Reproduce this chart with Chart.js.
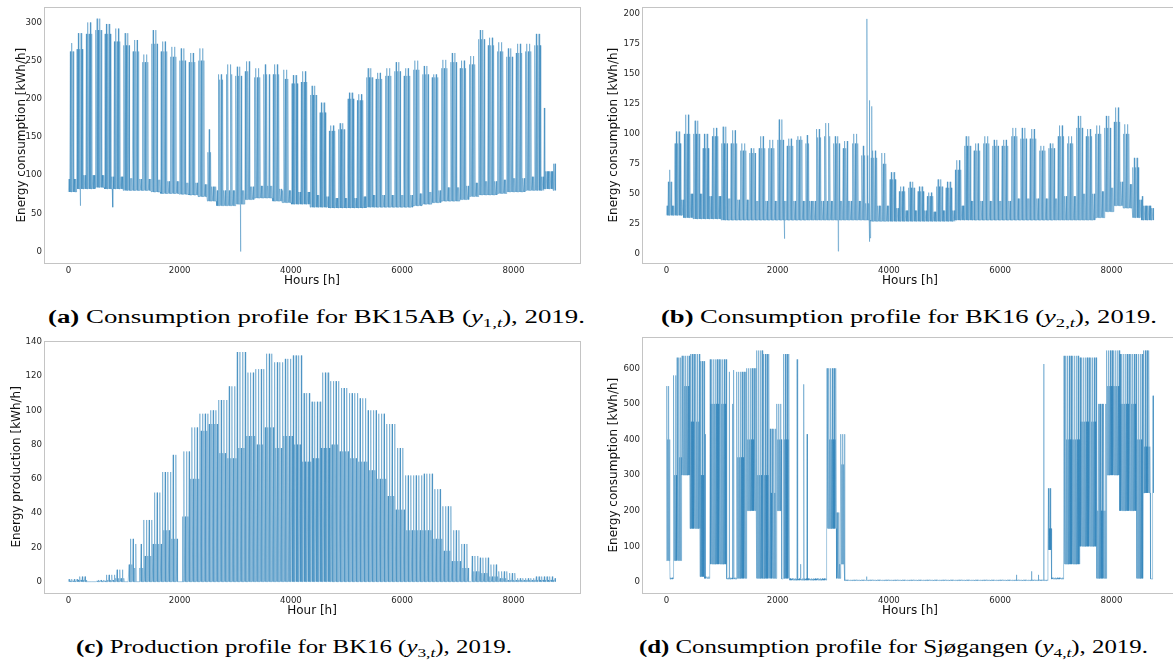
<!DOCTYPE html>
<html><head><meta charset="utf-8">
<script src="https://cdn.jsdelivr.net/npm/chart.js@4.4.1/dist/chart.umd.min.js"></script>
<style>
html,body{margin:0;padding:0;background:#fff;overflow:hidden;}
#wrap{position:relative;width:1173px;height:664px;overflow:hidden;background:#fff;}
canvas{position:absolute;}
.cap{position:absolute;white-space:nowrap;font-family:"Liberation Serif","DejaVu Serif",serif;font-size:18px;color:#000;transform-origin:0 0;line-height:1.2;}
.cap b{font-weight:bold;}
.cap sub{font-size:0.7em;vertical-align:-0.3em;line-height:0;}
</style></head><body>
<div id="wrap">
<canvas id="ca" width="590" height="296" style="left:0;top:0"></canvas>
<canvas id="cb" width="590" height="296" style="left:597px;top:0"></canvas>
<canvas id="cc" width="590" height="296" style="left:0;top:330px"></canvas>
<canvas id="cd" width="590" height="296" style="left:597px;top:330px"></canvas>
<div class="cap" data-l="48" data-r="585" data-y="318"><b>(a)</b> Consumption profile for BK15AB (<i>y</i><sub>1,<i>t</i></sub>), 2019.</div>
<div class="cap" data-l="661" data-r="1157" data-y="318"><b>(b)</b> Consumption profile for BK16 (<i>y</i><sub>2,<i>t</i></sub>), 2019.</div>
<div class="cap" data-l="76" data-r="512" data-y="648"><b>(c)</b> Production profile for BK16 (<i>y</i><sub>3,<i>t</i></sub>), 2019.</div>
<div class="cap" data-l="639" data-r="1148" data-y="648"><b>(d)</b> Consumption profile for Sjøgangen (<i>y</i><sub>4,<i>t</i></sub>), 2019.</div>
</div>
<script>
// ---------------- DATA ----------------
// Tick labels
const xTicks = [0, 2000, 4000, 6000, 8000];
const yTicksA = [0, 50, 100, 150, 200, 250, 300];
const yTicksB = [0, 25, 50, 75, 100, 125, 150, 175, 200];
const yTicksC = [0, 20, 40, 60, 80, 100, 120, 140];
const yTicksD = [0, 100, 200, 300, 400, 500, 600];

// Days (0 = 1 Jan 2019) with no working-day peak (public holidays / Christmas)
const offDays = [0, 107, 108, 111, 120, 136, 149, 160, 357, 358, 359, 360, 361, 362, 363, 364];

// (a) BK15AB, per calendar week (week 0 = 1-6 Jan): tallest working-day peak, other working-day peaks,
//     night base and weekend level [kWh/h]
const aPeak  = [273,286,300,305,298,292,286,277,258,290,275,268,266,260,266,160,232,245,242,249,240,245,245,238,231,236,217,195,165,168,208,206,240,234,240,248,240,250,243,232,251,260,250,256,290,280,274,266,272,272,285,188,120];
const aPeak2 = [262,265,285,290,285,275,270,262,248,272,262,255,250,248,250,130,225,232,230,236,228,232,232,226,220,222,205,182,158,160,200,198,228,226,230,236,230,238,232,228,240,248,240,245,278,270,262,255,260,262,270,188,110];
const aLow   = [78,82,82,84,82,82,80,80,80,78,76,76,75,74,72,66,60,60,62,68,70,70,66,64,62,62,58,58,57,57,57,57,58,58,58,58,58,60,62,64,66,66,68,72,74,74,76,78,78,80,80,82,80];
const aWkend = [95,100,100,100,98,98,96,95,95,94,92,92,90,90,88,85,80,80,80,85,86,86,82,80,78,78,74,72,70,70,70,72,74,74,74,74,74,76,78,80,84,84,86,90,92,92,94,96,96,98,98,105,115];
// (a) isolated outliers: hour, value
const aOutH = [215, 800, 3095];
const aOutV = [60, 58, 0];

// (b) BK16 consumption, per calendar week
const bPeak  = [70,102,116,111,100,105,106,103,92,88,98,95,112,96,98,99,104,109,98,94,100,90,86,84,68,56,60,56,51,62,60,78,98,92,98,95,95,105,105,104,90,92,107,98,115,104,107,115,122,108,80,52,50];
const bPeak2 = [60,92,100,100,88,98,92,92,86,84,88,88,95,90,95,92,97,98,92,88,92,82,80,75,62,52,55,52,48,56,55,70,90,86,92,90,90,98,96,96,86,88,98,92,105,98,100,105,110,100,72,48,45];
const bLow   = [32,32,30,29,29,29,28,28,28,28,28,28,28,28,28,28,28,28,28,28,28,28,27,27,27,27,27,27,27,27,27,28,28,28,28,28,28,28,28,28,28,28,28,28,28,28,30,35,40,38,30,28,28];
const bWkend = [40,45,50,50,48,48,46,45,45,44,44,44,44,44,44,44,44,44,44,44,44,42,40,40,38,36,36,36,35,36,36,40,44,44,44,44,44,46,46,46,46,46,48,48,50,50,52,55,60,58,45,40,38];
const bOutH = [2120, 3090, 3605, 3647, 3652, 3665, 3692];
const bOutV = [12.5, 2, 196, 10, 128, 13, 123];

// (c) BK16 production, per week (week w = days 7w..7w+6): highest and typical daily peak [kWh/h]
const cHi = [1.5,3,0,1,4,7,25,22,36,52,64,74,76,90,98,100,106,114,134,122,124,133,128,130,132,110,105,122,117,113,110,107,100,98,92,78,62,62,63,54,44,30,22,15,14,10,6,5,2,2,3,3,2];
const cLo = [0.5,1,0,0.5,1,2,10,8,15,22,30,25,38,60,88,92,75,72,78,85,80,90,78,85,80,70,72,78,80,76,72,70,65,60,50,42,30,30,30,25,18,12,8,6,5,3,2,1,1,1,1,1,1];
const cZeroDays = [42, 43, 44, 51, 52, 82, 83, 84, 300, 301];

// (d) Sjøgangen, periods starting at hour dSegH with high / middle / low levels [kWh/h]
const dSegH   = [0, 66, 125, 185, 275, 425, 605, 690, 780, 1080, 1260, 1440, 1620, 1740, 1860, 1980, 2070, 2100, 2220, 2880, 3060, 3130, 3210, 6860, 6925, 7140, 7430, 7730, 7910, 8150, 8450, 8570, 8700, 8740];
const dSegHi  = [550, 12, 580, 630, 635, 640, 620, 15, 625, 12, 590, 600, 650, 640, 430, 500, 10, 640, 10, 600, 195, 415, 6, 263, 12, 635, 630, 500, 650, 640, 640, 650, 10, 523];
const dSegMid = [400, 10, 300, 350, 550, 450, 300, 12, 500, 10, 350, 400, 300, 300, 250, 400, 8, 400, 8, 400, 50, 330, 5, 150, 10, 400, 450, 200, 550, 500, 400, 380, 9, 250];
const dSegLo  = [60, 8, 60, 60, 300, 150, 15, 10, 50, 8, 10, 200, 10, 10, 10, 200, 8, 10, 5, 150, 10, 50, 4, 90, 8, 50, 100, 10, 300, 200, 10, 250, 8, 250];
const dOutH = [700, 1130, 1190, 1210, 2350, 2410, 2470, 2530, 3600, 6293, 6563, 6682, 6785, 7790, 7850];
const dOutV = [415, 590, 500, 595, 625, 50, 555, 415, 15, 20, 30, 20, 612, 500, 450];

// ---------------- series assembly ----------------
function weekOf(d){ return Math.floor((d + 1) / 7); }
function dayOfWeek(d){ return (d + 1) % 7; }          // 0 = Monday
function sortPts(p){ p.sort((a, b) => a.x - b.x); return p; }
function buildOffice(peak, peak2, low, wkend, outH, outV){
  const pts = [{x:0, y:low[0]}];
  for (let d = 0; d < 365; d++){
    const j = weekOf(d), dow = dayOfWeek(d);
    const off = dow >= 5 || offDays.includes(d);
    const top = off ? wkend[j] : ((dow === 1 || dow === 3) ? peak[j] : peak2[j]);
    pts.push({x:24*d+4, y:low[j]});
    pts.push({x:24*d+12, y:top});
    pts.push({x:24*d+20, y:low[j]});
  }
  pts.push({x:8759, y:low[low.length-1]});
  outH.forEach((h, i) => pts.push({x:h, y:outV[i]}));
  return sortPts(pts);
}
function buildSolar(){
  const pts = [{x:0, y:0}];
  for (let d = 0; d < 365; d++){
    const w = Math.floor(d / 7);
    const v = cZeroDays.includes(d) ? 0 : (d % 2 === 0 ? cHi[w] : cLo[w]);
    pts.push({x:24*d+5, y:0});
    pts.push({x:24*d+12, y:v});
    pts.push({x:24*d+19, y:0});
  }
  pts.push({x:8759, y:0});
  return pts;
}
function buildD(){
  const pts = [];
  for (let s = 0; s < dSegH.length; s++){
    const start = dSegH[s], end = s + 1 < dSegH.length ? dSegH[s+1] : 8760;
    const seq = [dSegLo[s], dSegHi[s], dSegLo[s], dSegMid[s]];
    let k = 0;
    for (let t = start; t < end; t += 8){ pts.push({x:t, y:seq[k % 4]}); k++; }
  }
  dOutH.forEach((h, i) => pts.push({x:h, y:dOutV[i]}));
  return sortPts(pts);
}

// ---------------- charts ----------------
const LINE = 'rgba(31,119,180,0.5)';
const frame = {
  id:'frame',
  afterDraw(chart){
    const a = chart.chartArea, c = chart.ctx;
    c.save(); c.strokeStyle = '#c4c4c4'; c.lineWidth = 1;
    c.strokeRect(Math.round(a.left)+0.5, Math.round(a.top)+0.5, Math.round(a.right-a.left), Math.round(a.bottom-a.top));
    c.restore();
  }
};
function makeChart(id, pts, yMin, yMax, yTicks, yTitle, xTitle, g){
  new Chart(document.getElementById(id), {
    type:'line',
    data:{datasets:[{data:pts, borderColor:LINE, borderWidth:0.8, pointRadius:0, tension:0, fill:false}]},
    options:{
      responsive:false, animation:false, devicePixelRatio:1, parsing:false, normalized:true,
      layout:{padding:{left:0, top:g.top, right:g.right, bottom:0}},
      plugins:{legend:{display:false}, tooltip:{enabled:false}},
      scales:{
        x:{type:'linear', min:-438, max:9197,
           grid:{display:false, drawTicks:false, tickLength:0}, border:{display:false},
           afterBuildTicks:s => { s.ticks = xTicks.map(v => ({value:v})); },
           afterFit:s => { s.height = g.xh; },
           ticks:{padding:3, color:'#262626', font:{family:'DejaVu Sans', size:8.6}, callback:v => String(v), maxRotation:0, autoSkip:false},
           title:{display:true, text:xTitle, color:'#111', font:{family:'DejaVu Sans', size:12}, padding:{top:0, bottom:7.8}}},
        y:{type:'linear', min:yMin, max:yMax,
           grid:{display:false, drawTicks:false, tickLength:0}, border:{display:false},
           afterBuildTicks:s => { s.ticks = yTicks.map(v => ({value:v})); },
           afterFit:s => { s.width = g.yw; },
           ticks:{padding:2, color:'#262626', font:{family:'DejaVu Sans', size:8.6}, callback:v => String(v), autoSkip:false},
           title:{display:true, text:yTitle, color:'#111', font:{family:'DejaVu Sans', size:12}, padding:{top:g.yt, bottom:0}}}
      }
    },
    plugins:[frame]
  });
}
makeChart('ca', buildOffice(aPeak, aPeak2, aLow, aWkend, aOutH, aOutV), -15, 320, yTicksA, 'Energy consumption [kWh/h]', 'Hours [h]', {top:7, right:10, xh:33, yw:44, yt:14.5});
makeChart('cb', buildOffice(bPeak, bPeak2, bLow, bWkend, bOutH, bOutV), -7.8, 205.8, yTicksB, 'Energy consumption [kWh/h]', 'Hours [h]', {top:7, right:9, xh:33, yw:45, yt:10.1});
makeChart('cc', buildSolar(), -6.6, 140.6, yTicksC, 'Energy production [kWh/h]', 'Hour [h]', {top:10.7, right:10, xh:33, yw:44, yt:10.1});
makeChart('cd', buildD(), -31, 687, yTicksD, 'Energy consumption [kWh/h]', 'Hours [h]', {top:7.3, right:9, xh:33, yw:45, yt:10.1});

// captions: fit each caption to the width it spans in the reference
document.querySelectorAll('.cap').forEach(el => {
  const l = +el.dataset.l, r = +el.dataset.r, y = +el.dataset.y;
  const w = el.offsetWidth, h = el.offsetHeight;
  el.style.left = l + 'px';
  el.style.top = (y - h / 2) + 'px';
  el.style.transform = 'scaleX(' + ((r - l) / w) + ')';
});
</script>
</body></html>
